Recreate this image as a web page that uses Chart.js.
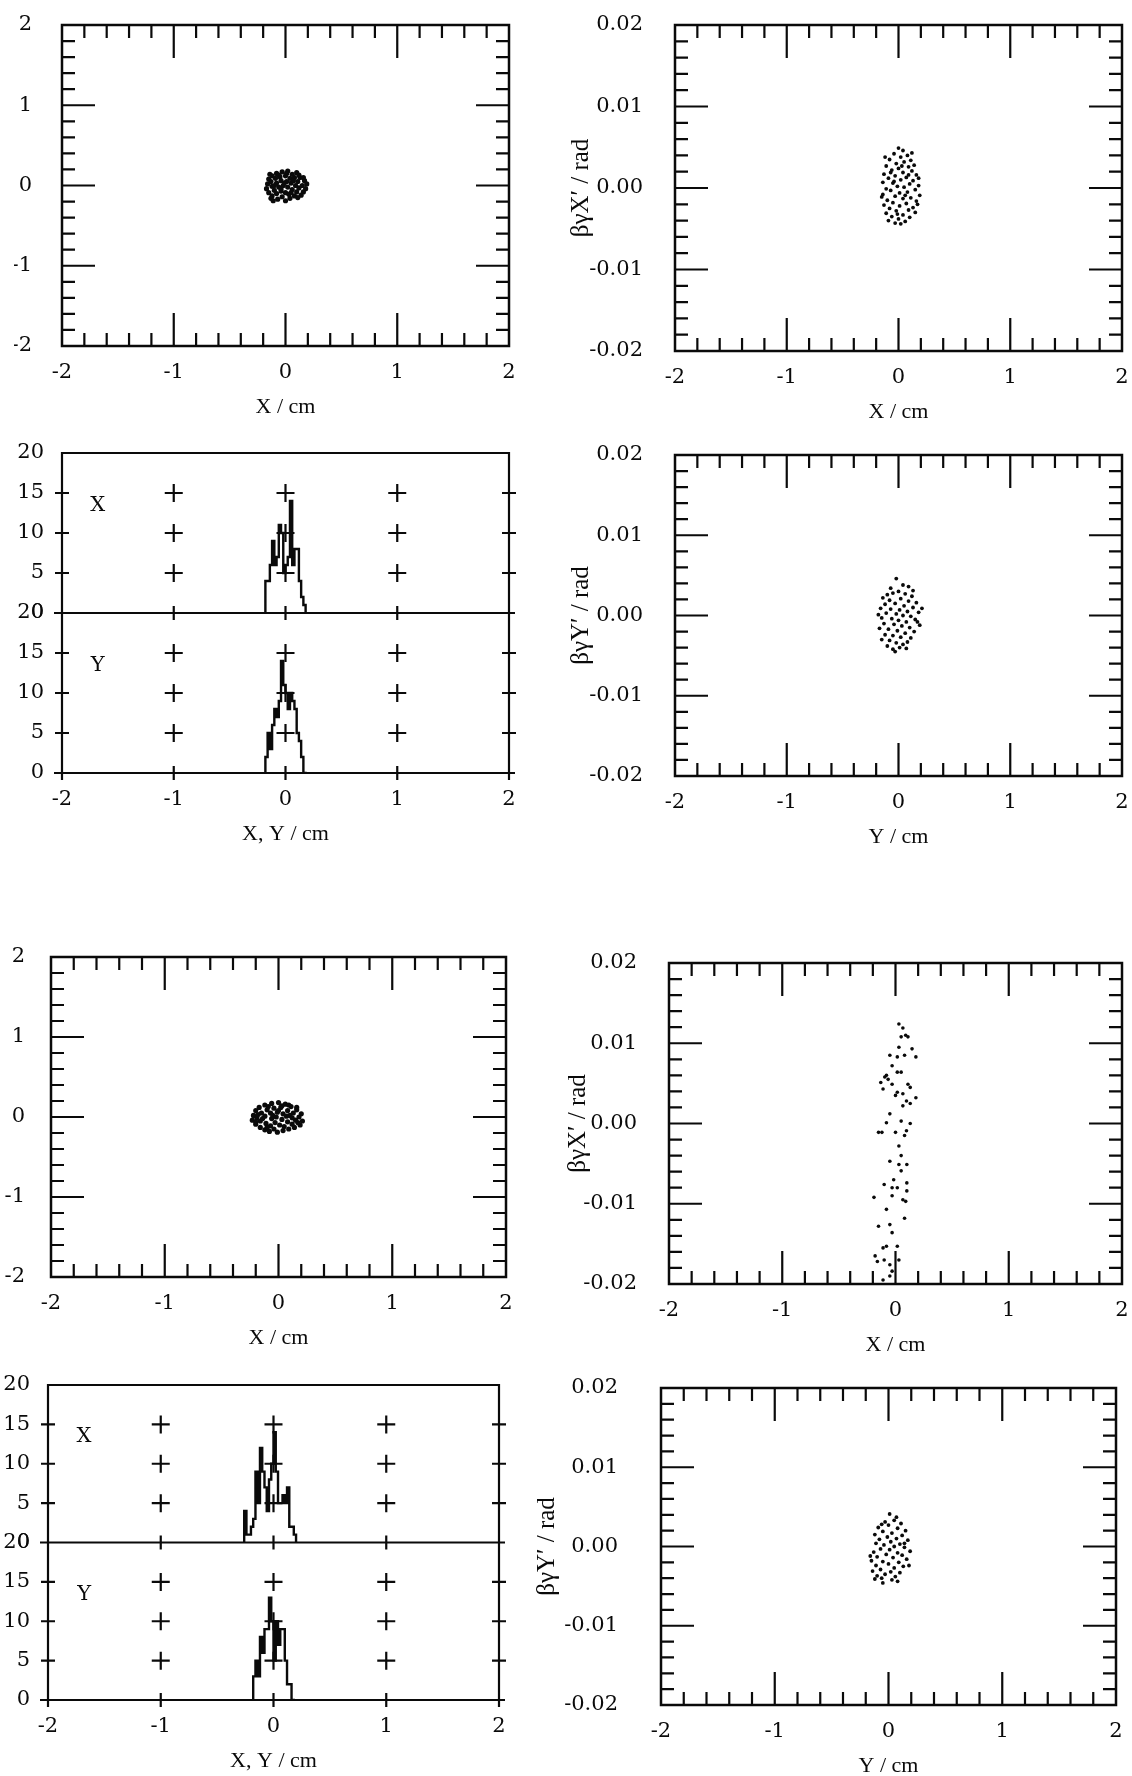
<!DOCTYPE html>
<html>
<head>
<meta charset="utf-8">
<title>Beam phase space</title>
<script src="https://cdn.jsdelivr.net/npm/chart.js@4.4.0/dist/chart.umd.min.js"></script>
<style>
  html, body { margin: 0; padding: 0; background: #fff; }
  body { width: 1132px; height: 1776px; position: relative; overflow: hidden; }
  canvas { position: absolute; }
</style>
</head>
<body>
<canvas id="p1"></canvas>
<canvas id="p2"></canvas>
<canvas id="p3"></canvas>
<canvas id="p4"></canvas>
<canvas id="p5"></canvas>
<canvas id="p6"></canvas>
<canvas id="p7"></canvas>
<canvas id="p8"></canvas>
<script>
// tick labels
const posTicks = [-2, -1, 0, 1, 2];
const angleTicks = [-0.02, -0.01, 0, 0.01, 0.02];
const countTicks = [0, 5, 10, 15, 20];
const histNames = ['X', 'Y'];

// row 1: X-Y and X-X' at first position
const p1x = [-0.15, -0.12, -0.08, -0.03, 0.02, 0.06, 0.10, 0.13, 0.17, 0.19, -0.16, -0.13, -0.09, -0.05, 0.00, 0.04, 0.08, 0.11, 0.15, 0.18,
  -0.17, -0.12, -0.08, -0.04, 0.01, 0.05, 0.09, 0.12, 0.16, 0.14, -0.15, -0.10, -0.06, -0.02, 0.02, 0.06, 0.10, 0.08, 0.04, 0.00,
  -0.12, -0.08, -0.04, 0.00, 0.03, -0.03, -0.07, -0.11, -0.14, 0.07, -0.01, -0.06, 0.12, 0.16, -0.10, 0.05, -0.13, 0.11, 0.01, -0.04];
const p1y = [0.08, 0.12, 0.15, 0.17, 0.18, 0.14, 0.16, 0.10, 0.06, 0.02, 0.02, 0.05, 0.09, 0.11, 0.12, 0.09, 0.10, 0.05, 0.00, -0.04,
  -0.04, -0.01, 0.03, 0.06, 0.05, 0.03, 0.00, -0.03, -0.08, -0.12, -0.09, -0.06, -0.02, 0.00, -0.02, -0.05, -0.08, -0.13, -0.16, -0.19,
  -0.13, -0.10, -0.07, -0.09, -0.11, -0.14, -0.17, -0.19, 0.14, 0.06, 0.03, 0.13, 0.13, 0.10, 0.00, -0.09, -0.16, -0.15, 0.15, -0.04];

const p2x = [0.00, 0.04, -0.04, 0.08, 0.02, -0.08, 0.11, 0.05, -0.02, 0.14, -0.11, 0.09, 0.00, -0.06, 0.12, 0.04, -0.13, 0.16, -0.03, 0.07,
  -0.09, 0.02, 0.13, -0.14, -0.05, 0.10, 0.18, -0.01, 0.05, -0.11, 0.15, -0.07, 0.08, 0.01, -0.14, 0.19, -0.03, 0.11, 0.04, -0.10,
  0.16, -0.05, 0.07, -0.13, 0.01, 0.13, -0.08, 0.09, -0.02, 0.15, -0.11, 0.04, -0.06, 0.10, 0.00, -0.09, 0.06, -0.03, 0.02, 0.12,
  -0.12, 0.18, 0.03, -0.04, 0.06, -0.07, 0.09, -0.01, 0.17, -0.15];
const p2y = [0.0049, 0.0046, 0.0042, 0.0040, 0.0038, 0.0035, 0.0034, 0.0032, 0.0030, 0.0028, 0.0027, 0.0026, 0.0024, 0.0022, 0.0021, 0.0019, 0.0017, 0.0016, 0.0015, 0.0013,
  0.0012, 0.0010, 0.0009, 0.0007, 0.0006, 0.0005, 0.0003, 0.0002, 0.0001, -0.0001, -0.0002, -0.0003, -0.0005, -0.0006, -0.0008, -0.0009, -0.0010, -0.0012, -0.0013, -0.0015,
  -0.0016, -0.0018, -0.0019, -0.0021, -0.0022, -0.0024, -0.0025, -0.0027, -0.0028, -0.0030, -0.0031, -0.0033, -0.0035, -0.0036, -0.0038, -0.0040, -0.0041, -0.0043, -0.0044, 0.0043,
  0.0038, 0.0012, 0.0027, 0.0008, -0.0009, 0.0019, 0.0016, -0.0032, -0.0020, -0.0011];

// row 2: profiles (bin centres, counts) and Y-Y'
const hist3Bins = [-0.19, -0.17, -0.15, -0.13, -0.11, -0.09, -0.07, -0.05, -0.03, -0.01, 0.01, 0.03, 0.05, 0.07, 0.09, 0.11, 0.13, 0.15, 0.17, 0.19];
const hist3X = [0, 4, 4, 6, 9, 6, 7, 11, 10, 5, 6, 7, 14, 6, 8, 8, 4, 2, 1, 0];
const hist3Y = [0, 2, 5, 3, 6, 8, 7, 9, 14, 11, 10, 8, 10, 9, 8, 5, 4, 2, 0, 0];

const p4x = [-0.02, 0.04, -0.10, -0.05, 0.00, 0.06, 0.12, -0.14, -0.08, 0.02, 0.09, 0.16, -0.12, -0.03, 0.05, 0.13, -0.16, -0.07, 0.01, 0.08,
  0.18, -0.11, -0.02, 0.04, 0.11, -0.15, -0.06, 0.15, 0.00, 0.07, -0.13, -0.04, 0.19, 0.03, 0.10, -0.17, -0.09, -0.01, 0.14, 0.06,
  -0.12, -0.05, 0.02, 0.11, -0.15, -0.08, 0.08, -0.02, 0.04, -0.10, 0.01, -0.05, 0.07, -0.03, 0.13, -0.07, 0.09, 0.17, -0.18, 0.21];
const p4y = [0.0046, 0.0038, 0.0026, 0.0028, 0.0030, 0.0027, 0.0024, 0.0022, 0.0019, 0.0021, 0.0018, 0.0016, 0.0014, 0.0015, 0.0012, 0.0010, 0.0009, 0.0008, 0.0007, 0.0005,
  0.0004, 0.0003, 0.0002, 0.0000, -0.0001, -0.0003, -0.0004, -0.0005, -0.0006, -0.0008, -0.0010, -0.0011, -0.0012, -0.0013, -0.0015, -0.0016, -0.0017, -0.0019, -0.0020, -0.0022,
  -0.0024, -0.0025, -0.0027, -0.0028, -0.0030, -0.0031, -0.0033, -0.0034, -0.0036, -0.0038, -0.0040, -0.0042, -0.0041, -0.0045, 0.0031, 0.0034, 0.0036, -0.0008, 0.0001, 0.0009];

// row 3: X-Y and X-X' at second position
const p5x = [-0.22, -0.20, -0.17, -0.12, -0.06, 0.00, 0.06, 0.11, 0.16, 0.20, -0.23, -0.19, -0.15, -0.10, -0.04, 0.02, 0.08, 0.13, 0.18, 0.21,
  -0.20, -0.16, -0.12, -0.07, -0.01, 0.04, 0.10, 0.15, 0.19, 0.14, -0.16, -0.11, -0.06, -0.02, 0.03, 0.08, 0.12, 0.09, 0.04, -0.01,
  -0.12, -0.07, -0.03, 0.01, 0.05, -0.04, -0.08, -0.18, 0.16, 0.07, -0.09, 0.12, -0.14, 0.00, -0.10, 0.17, 0.09, -0.05, 0.03, -0.20];
const p5y = [0.02, 0.08, 0.12, 0.15, 0.17, 0.18, 0.16, 0.13, 0.09, 0.04, -0.04, -0.01, 0.05, 0.09, 0.11, 0.12, 0.08, 0.05, 0.00, -0.05,
  -0.09, -0.05, 0.01, 0.05, 0.06, 0.04, 0.02, -0.04, -0.10, -0.13, -0.13, -0.08, -0.02, 0.00, -0.03, -0.06, -0.09, -0.15, -0.17, -0.19,
  -0.16, -0.11, -0.07, -0.10, -0.12, -0.15, -0.18, 0.03, 0.12, 0.01, 0.13, -0.01, -0.02, 0.08, -0.13, -0.07, 0.15, 0.02, 0.14, -0.06];

const p6x = [0.03, 0.065, 0.09, 0.05, 0.11, 0.03, 0.146, -0.05, 0.016, 0.08, 0.18, -0.03, 0.016, -0.08, -0.095, 0.05, -0.13, -0.065, -0.03, 0.11,
  0.13, -0.11, 0.016, 0.065, 0.00, 0.18, 0.097, 0.13, 0.065, -0.05, 0.05, 0.13, -0.08, -0.15, -0.12, 0.00, 0.097, 0.08, 0.03, 0.05,
  -0.05, 0.03, 0.10, 0.05, -0.016, 0.10, -0.10, -0.03, 0.016, 0.10, -0.19, -0.03, 0.065, 0.09, -0.08, 0.08, -0.05, -0.15, -0.03, -0.11,
  -0.08, 0.016, -0.18, -0.16, -0.10, 0.03, -0.05, -0.03, -0.11, -0.05];
const p6y = [0.0124, 0.0119, 0.0110, 0.0108, 0.0108, 0.0095, 0.0093, 0.0085, 0.0083, 0.0085, 0.0083, 0.0072, 0.0064, 0.0060, 0.0058, 0.0064, 0.0051, 0.0055, 0.0049, 0.0049,
  0.0045, 0.0043, 0.0039, 0.0037, 0.0035, 0.0032, 0.0028, 0.0025, 0.0022, 0.0012, 0.0003, 0.0000, 0.0001, -0.0011, -0.0011, -0.0011, -0.0009, -0.0015, -0.0028, -0.0040,
  -0.0047, -0.0051, -0.0051, -0.0059, -0.0070, -0.0074, -0.0076, -0.0080, -0.0080, -0.0084, -0.0092, -0.0090, -0.0095, -0.0097, -0.0107, -0.0118, -0.0126, -0.0128, -0.0136, -0.0155,
  -0.0153, -0.0153, -0.0165, -0.0172, -0.0170, -0.0170, -0.0176, -0.0184, -0.0195, -0.0190];

// row 4: profiles and Y-Y' at second position
const hist7BinsX = [-0.27, -0.25, -0.23, -0.21, -0.19, -0.17, -0.15, -0.13, -0.11, -0.09, -0.07, -0.05, -0.03, -0.01, 0.01, 0.03, 0.05, 0.07, 0.09, 0.11, 0.13, 0.15, 0.17, 0.19, 0.21];
const hist7X = [0, 4, 1, 1, 2, 3, 9, 5, 12, 9, 7, 4, 8, 10, 14, 9, 5, 5, 6, 5, 7, 2, 2, 1, 0];
const hist7BinsY = [-0.19, -0.17, -0.15, -0.13, -0.11, -0.09, -0.07, -0.05, -0.03, -0.01, 0.01, 0.03, 0.05, 0.07, 0.09, 0.11, 0.13, 0.15, 0.17, 0.19];
const hist7Y = [0, 3, 5, 3, 8, 6, 9, 9, 13, 10, 5, 10, 7, 9, 9, 5, 2, 2, 0, 0];

const p8x = [0.01, 0.05, -0.03, 0.11, 0.00, -0.09, 0.08, 0.15, -0.05, 0.03, -0.12, 0.12, -0.01, 0.07, -0.08, 0.17, 0.02, -0.11, 0.10, -0.04,
  0.05, 0.14, -0.07, 0.01, 0.19, -0.13, 0.08, -0.02, 0.12, -0.10, 0.04, 0.16, -0.15, -0.05, 0.09, 0.00, -0.11, 0.13, 0.05, -0.07,
  -0.14, 0.02, 0.10, -0.03, -0.10, 0.06, -0.06, 0.03, -0.12, -0.05, 0.07, -0.06, 0.14, -0.16, 0.18, 0.08];
const p8y = [0.0041, 0.0033, 0.0031, 0.0029, 0.0027, 0.0024, 0.0023, 0.0020, 0.0019, 0.0017, 0.0015, 0.0014, 0.0012, 0.0010, 0.0009, 0.0008, 0.0006, 0.0004, 0.0003, 0.0002,
  0.0000, -0.0001, -0.0003, -0.0004, -0.0006, -0.0007, -0.0008, -0.0010, -0.0011, -0.0013, -0.0014, -0.0016, -0.0018, -0.0019, -0.0020, -0.0022, -0.0024, -0.0025, -0.0027, -0.0029,
  -0.0031, -0.0032, -0.0033, -0.0035, -0.0037, -0.0038, -0.0040, -0.0042, -0.0041, -0.0046, 0.0037, 0.0028, 0.0004, -0.0012, -0.0024, -0.0044];

const INK = '#0a0a0a';
const tickFont = { family: '"DejaVu Serif", serif', size: 21 };
const titleFont = { family: '"Liberation Serif", serif', size: 22 };
const yTitleFont = { family: '"Liberation Serif", serif', size: 25 };
const PAD_R = 26, XH = 80;

function pts(xs, ys) {
  return xs.map((x, i) => ({ x, y: ys[i] }));
}

// size and position the canvas so the plot box lands on box
// (chart.js pads the top by half a label plus the tick padding)
function place(id, box, yw, padTop) {
  const c = document.getElementById(id);
  c.width = box.R - box.L + yw + PAD_R;
  c.height = box.B - box.T + padTop + XH;
  c.style.left = (box.L - yw) + 'px';
  c.style.top = (box.T - padTop) + 'px';
  return c;
}

function xAxis(title) {
  return {
    type: 'linear', min: -2, max: 2, offset: false,
    afterBuildTicks: s => { s.ticks = posTicks.map(v => ({ value: v })); },
    afterFit: s => { s.height = XH; },
    grid: { display: false, drawTicks: false },
    border: { display: false },
    ticks: { color: INK, font: tickFont, padding: 14, autoSkip: false, maxRotation: 0 },
    title: { display: true, text: title, color: INK, font: titleFont, padding: { top: 0, bottom: 6 } }
  };
}

// frame with inward ticks, minor every 1/20 of the range, major every 5th
function scatterFrame(yMin, yStep) {
  return {
    id: 'frame',
    afterDatasetsDraw(chart) {
      const { ctx, chartArea: a } = chart;
      const xs = chart.scales.x, ys = chart.scales.y;
      ctx.save();
      ctx.strokeStyle = INK;
      ctx.lineWidth = 2.5;
      ctx.strokeRect(a.left, a.top, a.right - a.left, a.bottom - a.top);
      ctx.lineWidth = 2.2;
      ctx.beginPath();
      for (let i = 1; i < 20; i++) {
        const len = i % 5 === 0 ? 33 : 13;
        const px = xs.getPixelForValue(-2 + i * 0.2);
        ctx.moveTo(px, a.bottom); ctx.lineTo(px, a.bottom - len);
        ctx.moveTo(px, a.top); ctx.lineTo(px, a.top + len);
        const py = ys.getPixelForValue(yMin + i * yStep);
        ctx.moveTo(a.left, py); ctx.lineTo(a.left + len, py);
        ctx.moveTo(a.right, py); ctx.lineTo(a.right - len, py);
      }
      ctx.stroke();
      ctx.restore();
    }
  };
}

const histFrame = {
  id: 'histFrame',
  afterDatasetsDraw(chart) {
    const { ctx, chartArea: a } = chart;
    const xs = chart.scales.x;
    const halves = [chart.scales.yTop, chart.scales.yBot];
    ctx.save();
    ctx.strokeStyle = INK;
    ctx.lineWidth = 2.2;
    ctx.beginPath();
    ctx.moveTo(a.left, a.bottom); ctx.lineTo(a.left, a.top);
    ctx.lineTo(a.right, a.top); ctx.lineTo(a.right, a.bottom);
    halves.forEach(s => {
      const py = s.getPixelForValue(0);
      ctx.moveTo(a.left - 8, py); ctx.lineTo(a.right + 6, py);
      posTicks.forEach(v => {
        const px = xs.getPixelForValue(v);
        ctx.moveTo(px, py - 7); ctx.lineTo(px, py + 7);
      });
      [5, 10, 15].forEach(c => {
        const cy = s.getPixelForValue(c);
        ctx.moveTo(a.left - 7, cy); ctx.lineTo(a.left + 7, cy);
        ctx.moveTo(a.right - 7, cy); ctx.lineTo(a.right + 7, cy);
        [-1, 0, 1].forEach(v => {
          const px = xs.getPixelForValue(v);
          ctx.moveTo(px - 9, cy); ctx.lineTo(px + 9, cy);
          ctx.moveTo(px, cy - 9); ctx.lineTo(px, cy + 9);
        });
      });
    });
    ctx.stroke();
    ctx.font = '21px "DejaVu Serif", serif';
    ctx.fillStyle = INK;
    ctx.textAlign = 'center';
    ctx.textBaseline = 'middle';
    halves.forEach((s, i) => {
      ctx.fillText(histNames[i], xs.getPixelForValue(-1.68), s.getPixelForValue(13.4));
    });
    ctx.restore();
  }
};

function scatterPanel(id, box, yw, xs, ys, opt) {
  const padTop = opt.labelGap + 15;
  const canvas = place(id, box, yw, padTop);
  const yTicks = opt.angle ? angleTicks : posTicks;
  const yMin = yTicks[0], yMax = yTicks[yTicks.length - 1];
  new Chart(canvas, {
    type: 'scatter',
    data: {
      datasets: [{ data: pts(xs, ys), pointRadius: opt.r, pointBackgroundColor: INK, pointBorderWidth: 0 }]
    },
    options: {
      responsive: false, animation: false, events: [],
      layout: { padding: { top: padTop, right: PAD_R, bottom: 0, left: 0 } },
      plugins: { legend: { display: false }, tooltip: { enabled: false } },
      scales: {
        x: xAxis(opt.xTitle),
        y: {
          type: 'linear', min: yMin, max: yMax,
          afterBuildTicks: s => { s.ticks = yTicks.map(v => ({ value: v })); },
          afterFit: s => { s.width = yw; },
          grid: { display: false, drawTicks: false },
          border: { display: false },
          ticks: {
            color: INK, font: tickFont, padding: opt.labelGap, autoSkip: false,
            callback: v => opt.angle ? v.toFixed(2) : v
          },
          title: {
            display: !!opt.yTitle, text: opt.yTitle || '', color: INK, font: yTitleFont,
            padding: { top: opt.titlePad || 0, bottom: 0 }
          }
        }
      }
    },
    plugins: [scatterFrame(yMin, (yMax - yMin) / 20)]
  });
}

function countAxis(weight) {
  return {
    type: 'linear', position: 'left', stack: 'profiles', stackWeight: 1, weight: weight,
    min: 0, max: 20,
    afterBuildTicks: s => { s.ticks = countTicks.map(v => ({ value: v })); },
    afterFit: s => { s.width = 48; },
    grid: { display: false, drawTicks: false },
    border: { display: false },
    ticks: { color: INK, font: tickFont, padding: 18, autoSkip: false }
  };
}

function histPanel(id, box, binsX, countsX, binsY, countsY) {
  const padTop = 35;
  const canvas = place(id, box, 48, padTop);
  const line = { stepped: 'middle', borderColor: INK, borderWidth: 2.4, pointRadius: 0, fill: false };
  new Chart(canvas, {
    type: 'line',
    data: {
      datasets: [
        Object.assign({ label: histNames[0], data: pts(binsX, countsX), yAxisID: 'yTop' }, line),
        Object.assign({ label: histNames[1], data: pts(binsY, countsY), yAxisID: 'yBot' }, line)
      ]
    },
    options: {
      responsive: false, animation: false, events: [],
      layout: { padding: { top: padTop, right: PAD_R, bottom: 0, left: 0 } },
      plugins: { legend: { display: false }, tooltip: { enabled: false } },
      scales: {
        x: xAxis('X, Y / cm'),
        yTop: countAxis(1),
        yBot: countAxis(0)
      }
    },
    plugins: [histFrame]
  });
}

scatterPanel('p1', { L: 62, T: 25, R: 509, B: 346 }, 48, p1x, p1y,
  { r: 2.6, xTitle: 'X / cm', labelGap: 30 });
scatterPanel('p2', { L: 675, T: 25, R: 1122, B: 351 }, 125, p2x, p2y,
  { r: 1.9, angle: true, xTitle: 'X / cm', yTitle: 'βγX′ / rad', labelGap: 32, titlePad: 16 });
histPanel('p3', { L: 62, T: 453, R: 509, B: 773 }, hist3Bins, hist3X, hist3Bins, hist3Y);
scatterPanel('p4', { L: 675, T: 455, R: 1122, B: 776 }, 125, p4x, p4y,
  { r: 1.9, angle: true, xTitle: 'Y / cm', yTitle: 'βγY′ / rad', labelGap: 32, titlePad: 16 });
scatterPanel('p5', { L: 51, T: 957, R: 506, B: 1277 }, 48, p5x, p5y,
  { r: 2.6, xTitle: 'X / cm', labelGap: 26 });
scatterPanel('p6', { L: 669, T: 963, R: 1122, B: 1284 }, 125, p6x, p6y,
  { r: 1.8, angle: true, xTitle: 'X / cm', yTitle: 'βγX′ / rad', labelGap: 32, titlePad: 19 });
histPanel('p7', { L: 48, T: 1385, R: 499, B: 1700 }, hist7BinsX, hist7X, hist7BinsY, hist7Y);
scatterPanel('p8', { L: 661, T: 1388, R: 1116, B: 1705 }, 135, p8x, p8y,
  { r: 1.9, angle: true, xTitle: 'Y / cm', yTitle: 'βγY′ / rad', labelGap: 43, titlePad: 6 });
</script>
</body>
</html>
